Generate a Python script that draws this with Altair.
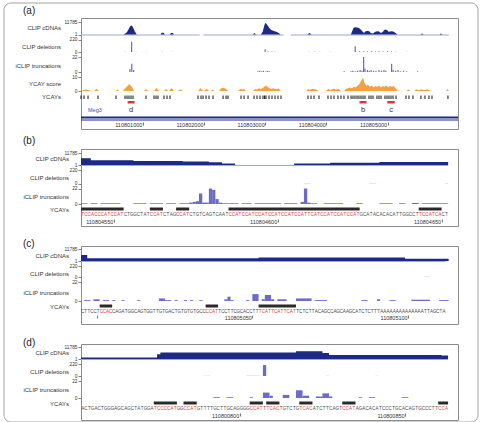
import altair as alt
import pandas as pd

FONT = "Liberation Sans"
NAVY = "#1d2987"
LIGHTBLUE = "#9aa7dc"
LAV = "#6c6cc8"
ORANGE = "#f5a23c"
RED = "#d8383a"
SEQ_BLACK = "#4a4a4a"
BAR_BLACK = "#2a2a2a"
W = 377

# ---------------- panel (a): overview (positions = offset from 110800000) ----------------
A0 = 110800000
A_DOM = [110799990, 110806150]
a_ticks = [110801000, 110802000, 110803000, 110804000, 110805000]

a_cdna_pos = [-10, 690, 740, 770, 790, 810, 830, 850, 870, 900,
              1290, 1310, 1340, 1360, 1440, 1460, 1490, 1510, 2800, 2820, 2850,
              2930, 2960, 2985, 3000, 3020, 3045, 3070, 3100, 3140, 3180, 3220, 3250,
              3690, 3720, 3760,
              4400, 4425, 4445, 4470, 4500, 4530, 4560, 4590, 4615, 4640, 4670, 4700, 4725,
              4760, 4800, 4830, 4860, 4890, 4920, 4945, 4970, 4995, 5015, 5040, 5070, 5100,
              5130, 5160,
              5540, 5560, 5590, 5850, 5870, 5900, 6000]
a_cdna_val = [1, 1, 5, 60, 400, 900, 500, 80, 10, 1,
              1, 4, 4, 1, 1, 3, 3, 1, 1, 3, 1,
              1, 10, 800, 6000, 3000, 600, 100, 30, 15, 8, 3, 1,
              1, 3, 1,
              1, 20, 150, 220, 200, 120, 40, 10, 3, 12, 15, 12, 3,
              2, 8, 12, 10, 3, 6, 30, 40, 25, 8, 10, 12, 8,
              3, 1,
              1, 2, 1, 1, 2, 1, 1]
a_cov_start = [-10, 1990, 3420]
a_cov_end = [1930, 3300, 6000]

a_del_pos = [700, 807, 880, 1050, 1300, 1460, 2990, 3040, 3100, 3150, 3700, 3800, 3880,
             4050, 4460, 4530, 4600, 4660, 4730, 4790, 4850, 4920, 4990, 5050, 5120, 5300]
a_del_val = [5, 180, 5, 3, 4, 3, 50, 10, 8, 5, 4, 4, 3,
             4, 100, 15, 12, 10, 15, 10, 12, 10, 15, 8, 5, 4]

a_trunc_pos = [780, 810, 840, 2870, 2900, 2930, 2960, 3000, 3030, 3060,
               4280, 4390, 4420, 4460, 4500, 4540, 4570, 4598, 4620, 4660, 4690, 4720,
               4760, 4800, 4850, 4890, 4930, 4960, 5055, 5080, 5120, 5160, 5200, 5250, 5300, 5480]
a_trunc_val = [4, 12, 3, 1, 2, 1, 2, 1, 2, 1,
               1, 1, 2, 1, 2, 3, 2, 22, 5, 3, 2, 3,
               2, 2, 3, 2, 3, 2, 12, 3, 2, 3, 1, 2, 1, 1]

a_ycay_pos = [-10, 30, 72, 120, 154, 203, 240, 284, 562, 587, 611,
              676, 700, 740, 775, 800, 830, 856, 1020, 1052, 1085,
              1183, 1224, 1265, 1346, 1379, 1412, 1428, 1469, 1510, 1575, 1616, 1657,
              1902, 1943, 1984, 2000, 2041, 2082, 2114, 2139, 2163,
              2245, 2280, 2311, 2350, 2392, 2556, 2590, 2621, 2655, 2686,
              2801, 2835, 2866, 2900, 2931, 2970, 3013, 3050, 3095, 3130, 3177, 3215, 3258,
              3667, 3700, 3735, 3765, 3820, 3879, 3994, 4030, 4070, 4108, 4160, 4200, 4239,
              4288, 4320, 4350, 4380, 4420, 4450, 4480, 4510, 4540, 4570, 4598, 4620, 4650,
              4680, 4710, 4740, 4770, 4800, 4830, 4860, 4890, 4920, 4950, 4980, 5010, 5040,
              5070, 5100, 5130, 5170,
              5301, 5342, 5382, 5431, 5470, 5510, 5550, 5600, 5650, 5709, 5954, 5980, 6003]
a_ycay_val = [0, 0.8, 1, 0.5, 0, 0, 1.6, 0, 0, 1.2, 0,
              0, 1.5, 3, 5, 4, 2.5, 0, 0, 1.5, 0,
              0, 2.2, 0, 0, 1.5, 0, 0, 2.2, 0, 0, 1.2, 0,
              0, 2.2, 0, 0, 1.6, 0, 0, 1.2, 0,
              0, 2, 2.4, 1.8, 0, 0, 1.5, 1, 1.5, 0,
              0, 1.5, 1, 2, 1.5, 2.5, 4, 2.5, 1.5, 2, 1.2, 1.8, 0,
              0, 1.5, 0.8, 1.6, 1.2, 0, 0, 1.5, 0.8, 1.6, 1, 1.5, 0,
              0, 1.5, 2, 2.5, 2, 3, 2.5, 4, 5, 7.5, 9.5, 6, 3.5,
              4.5, 3, 4, 2.5, 3.5, 3, 4, 2.5, 3.5, 3, 4, 2.5, 3.5,
              3, 3.5, 2, 0,
              0, 1, 0, 0, 1.2, 0.6, 1.3, 0.6, 1.3, 0, 0, 1.5, 0]

a_ycays_pos = [-10, 39, 105, 268, 562, 709, 742, 774, 807, 840, 1052, 1183, 1216, 1248,
               1346, 1395, 1444, 1902, 1951, 1984, 2033, 2082, 2147, 2311, 2360, 2392,
               2605, 2654, 2719, 2817, 2866, 2915, 2964, 2990, 3013, 3062, 3111, 3160, 3209,
               3258, 3699, 3748, 3797, 3879, 4026, 4075, 4124, 4189, 4238, 4287, 4353, 4402,
               4434, 4467, 4500, 4532, 4565, 4598, 4630, 4696, 4728, 4761, 4826, 4859, 4892,
               4957, 4990, 5022, 5055, 5088, 5137, 5300, 5349, 5414, 5545, 5610, 5676, 5725, 5986]

meg3_start, meg3_end = 110795000, 110812000

# ---------------- panel (b) ----------------
B_START = 110804540
B_DOM = [110804540, 110804655]
b_ticks = [110804550, 110804600, 110804650]
b_seq = ("TCCACCCATCCATCTGGCTATCCATCTAGCCATCTGTCAGTCAAT"
         "CCATCCATCCATCCATCCATCCATTCATCCATCCATCCATGCATACACACATTGGCCTTCCATCACT")
b_ycay_s = [0, 21, 29, 45, 103]
b_ycay_e = [13, 25, 33, 85, 110]
b_cdna_idx = [0, 3, 16, 31, 39, 43, 47, 65, 76, 91, 112]
b_cdna_val = [200, 40, 25, 15, 8, 3, 1, 3, 6, 10, 10]
b_del_s = [68, 88, 111]
b_del_e = [70, 90, 112]
b_del_v = [3, 3, 3]
b_tr_s = [0, 3, 6, 16, 21, 26, 30, 33, 34, 35, 36, 37, 39, 40, 41, 42, 43, 49, 53, 62, 67, 68, 69, 70, 74, 84, 91, 97, 101, 104]
b_tr_e = [2, 5, 12, 20, 25, 29, 33, 34, 35, 36, 37, 39, 40, 41, 42, 43, 48, 52, 61, 66, 68, 69, 70, 72, 80, 86, 95, 99, 103, 112]
b_tr_v = [1, 1, 1, 1, 1, 1, 1, 2, 3, 4, 15, 2, 22, 20, 7, 2, 1, 1, 1, 1, 3, 22, 2, 1, 1, 1, 1, 1, 1.5, 1]

# ---------------- panel (c) ----------------
C_START = 110804995
C_DOM = [110804995, 110805116]
c_ticks = [110805000, 110805050, 110805100]
c_seq = ("CTTCCTCCACCAGATGGCAGTGGTTGTGACTGTGTGTGCCCCATTCCTTCGCACCTT"
         "TCATTCATTCATTCTCTTACAGCCAGCAAGCATCTCTTTAAAAAAAAAAAAAATTAGCTA")
c_ycay_s = [6, 40, 57]
c_ycay_e = [10, 44, 69]
c_cdna_idx = [0, 2, 57, 104, 118]
c_cdna_val = [100, 8, 15, 6, 6]
c_del_s = [110]
c_del_e = [112]
c_del_v = [3]
c_tr_s = [1, 4, 7, 10, 13, 18, 25, 27, 30, 33, 35, 38, 46, 47, 48, 53, 55, 58, 59, 61, 63, 69, 75, 90, 95, 99, 106, 115]
c_tr_e = [3, 6, 9, 11, 14, 19, 27, 29, 31, 34, 36, 39, 47, 48, 49, 54, 57, 59, 61, 62, 66, 74, 79, 92, 96, 101, 112, 118]
c_tr_v = [1, 2, 1, 1, 1, 1, 3, 1, 1, 1, 1, 1, 2, 5, 1, 1, 8, 2, 7, 2, 2, 3, 1, 1, 2, 1, 1.5, 1]

# ---------------- panel (d) ----------------
D_START = 110800752
D_DOM = [110800752, 110800866]
d_ticks = [110800800, 110800850]
d_seq = ("ACTGACTGGGAGCAGCTATGGATCCCCATGGCCATGTTTTGCTTGCAGGGGCCATTTCAC"
         "TGTCTGTCACATCTTCAGTCCATAGACACATCCCTGCACAGTGCCCTTCCA")
d_ycay_s = [22, 31, 51, 56, 66, 79, 108]
d_ycay_e = [29, 35, 55, 60, 70, 83, 111]
d_cdna_idx = [0, 23, 24, 65, 73, 75, 109, 111]
d_cdna_val = [3, 40, 150, 400, 100, 25, 15, 15]
d_del_s = [37, 50, 55, 74, 89]
d_del_e = [39, 54, 56, 75, 90]
d_del_v = [2, 3, 200, 2, 2]
d_tr_s = [40, 44, 51, 55, 57, 61, 65, 67, 71, 73, 75, 84, 87, 97]
d_tr_e = [42, 46, 52, 57, 58, 63, 67, 69, 73, 75, 76, 85, 89, 99]
d_tr_v = [1, 1, 1, 7, 3, 4, 10, 3, 2, 6, 2, 1, 1, 1]


# ---------------- helpers ----------------
def xs(dom):
    return alt.Scale(domain=dom, nice=False, zero=False)


def yaxis(vals):
    return alt.Axis(values=vals, orient="left", format="d", title=None, grid=False,
                    domain=False, ticks=True, tickSize=3, tickColor="#666", tickWidth=0.8,
                    labelFont=FONT, labelFontSize=4.8, labelColor="#333", labelPadding=1)


def xaxis(vals, offset, expr=None):
    kw = dict(values=vals, format="d", title=None, grid=False, domain=False, tickSize=3,
              tickColor="#555", tickWidth=0.8, labelFont=FONT, labelFontSize=5.5,
              labelColor="#333", labelAlign="right", labelPadding=-3, labelOffset=-1,
              offset=offset, orient="bottom", labelFlush=False, labelOverlap=False)
    if expr:
        kw["labelExpr"] = expr
    return alt.Axis(**kw)


def txt(t, x, y, size=6, align="right", color="#333"):
    return alt.Chart(pd.DataFrame({"t": [t]})).mark_text(
        align=align, baseline="middle", fontSize=size, font=FONT, color=color
    ).encode(x=alt.value(x), y=alt.value(y), text="t:N")


def cdna(pos, val, cs, ce, dom, rng, interp):
    df = pd.DataFrame({"pos": pos, "v": val, "one": 1})
    cov = pd.DataFrame({"s": cs, "e": ce})
    base = alt.Chart(cov).mark_rule(color=LIGHTBLUE, strokeWidth=1).encode(
        x=alt.X("s:Q", scale=xs(dom), axis=None), x2="e:Q", y=alt.value(rng[0] + 0.5))
    area = alt.Chart(df).mark_area(color=NAVY, interpolate=interp).encode(
        x=alt.X("pos:Q", scale=xs(dom), axis=None),
        y=alt.Y("v:Q", scale=alt.Scale(type="log", domain=[1, 11785], range=rng, nice=False),
                axis=yaxis([1, 11785])),
        y2="one:Q")
    return [base, area]


def bars(s, e, v, dom, ymax, rng, color=LAV):
    df = pd.DataFrame({"s": s, "e": e, "v": v, "zero": 0})
    return alt.Chart(df).mark_rect(color=color).encode(
        x=alt.X("s:Q", scale=xs(dom), axis=None), x2="e:Q",
        y=alt.Y("v:Q", scale=alt.Scale(domain=[0, ymax], range=rng, nice=False),
                axis=yaxis([0, ymax])),
        y2="zero:Q")


def seq_layers(seq, start, ys, ye, dom, row, bar_rows, ticks, offset, expr=None):
    red = [any(s <= i < e for s, e in zip(ys, ye)) for i in range(len(seq))]
    sdf = pd.DataFrame({"pos": [start + i + 0.5 for i in range(len(seq))],
                        "letter": list(seq), "red": red})
    bdf = pd.DataFrame({"s": [start + s for s in ys], "e": [start + e for e in ye]})
    ybars = alt.Chart(bdf).mark_rect(color=BAR_BLACK).encode(
        x=alt.X("s:Q", scale=xs(dom), axis=None), x2="e:Q",
        y=alt.value(bar_rows[0]), y2=alt.value(bar_rows[1]))
    letters = alt.Chart(sdf).mark_text(fontSize=4.5, font=FONT, baseline="middle").encode(
        x=alt.X("pos:Q", scale=xs(dom), axis=xaxis(ticks, offset, expr)),
        y=alt.value(row), text="letter:N",
        color=alt.condition("datum.red", alt.value(RED), alt.value(SEQ_BLACK)))
    return [ybars, letters]


def idx_df_pos(start, idx):
    return [start + i for i in idx]


def panel(layers, H):
    return alt.layer(*layers).properties(width=W, height=H).resolve_scale(
        y="independent").resolve_axis(x="independent", y="independent")


# ---------------- panel (a) ----------------
AH = 111
marks = pd.DataFrame({"name": ["d", "b", "c"],
                      "s": [D_DOM[0], B_DOM[0], C_DOM[0]],
                      "e": [D_DOM[1], B_DOM[1], C_DOM[1]]})
marks["m"] = (marks["s"] + marks["e"]) / 2

outer = alt.Chart(pd.DataFrame({"a": [0]})).mark_rect(
    fillOpacity=0, stroke="#a3a3a3", strokeWidth=1, cornerRadius=7
).encode(x=alt.value(-77), x2=alt.value(397), y=alt.value(-15), y2=alt.value(404))

a_layers = [outer, txt("(a)", -58, -7, size=10, align="left", color="#222"),
            txt("CLIP cDNAs", -20, 10), txt("CLIP deletions", -20, 29),
            txt("iCLIP truncations", -20, 48), txt("YCAY score", -20, 66), txt("YCAYs", -20, 79)]
a_layers += cdna([A0 + p for p in a_cdna_pos], a_cdna_val,
                 [A0 + p for p in a_cov_start], [A0 + p for p in a_cov_end], A_DOM, [16.5, 4], "linear")
a_layers.append(bars([A0 + p for p in a_del_pos], [A0 + p + 20 for p in a_del_pos], a_del_val,
                     A_DOM, 220, [34, 21.5]))
a_layers.append(bars([A0 + p for p in a_trunc_pos], [A0 + p + 20 for p in a_trunc_pos], a_trunc_val,
                     A_DOM, 22, [54, 39]))
a_layers.append(alt.Chart(pd.DataFrame({"pos": [A0 + p for p in a_ycay_pos], "v": a_ycay_val, "zero": 0}))
                .mark_area(color=ORANGE).encode(
                    x=alt.X("pos:Q", scale=xs(A_DOM), axis=None),
                    y=alt.Y("v:Q", scale=alt.Scale(domain=[0, 10], range=[73, 59], nice=False),
                            axis=yaxis([0, 10])),
                    y2="zero:Q"))
a_layers.append(alt.Chart(pd.DataFrame({"pos": [A0 + p for p in a_ycays_pos]}))
                .mark_rule(color="#111", strokeWidth=1).encode(
                    x=alt.X("pos:Q", scale=xs(A_DOM), axis=xaxis(a_ticks, -7)),
                    y=alt.value(77.5), y2=alt.value(81)))
a_layers.append(alt.Chart(marks).mark_rect(color=RED).encode(
    x=alt.X("s:Q", scale=xs(A_DOM), axis=None), x2="e:Q", y=alt.value(83), y2=alt.value(85.5)))
a_layers.append(alt.Chart(marks).mark_text(fontSize=7.5, font=FONT, color="#333", baseline="middle").encode(
    x=alt.X("m:Q", scale=xs(A_DOM), axis=None), y=alt.value(91.5), text="name:N"))
a_layers.append(txt("Meg3", 7, 92, size=5.5, align="left", color="#3b4cb0"))
gene = pd.DataFrame({"s": [meg3_start], "e": [meg3_end]})
a_layers.append(alt.Chart(gene).mark_rule(color=NAVY, strokeWidth=2, clip=True).encode(
    x=alt.X("s:Q", scale=xs(A_DOM), axis=None), x2="e:Q", y=alt.value(99.5)))
a_layers.append(alt.Chart(gene).mark_rule(color=NAVY, strokeWidth=1, clip=True).encode(
    x=alt.X("s:Q", scale=xs(A_DOM), axis=None), x2="e:Q", y=alt.value(102)))
pa = panel(a_layers, AH)


# ---------------- detail panels ----------------
def detail(label, lab_y, H, start, dom, seq, ys, ye, cidx, cval, dels, trs,
           cr, dr, tr, rows, ticks, offset, expr=None):
    L = [txt(label, -58, lab_y, size=10, align="left", color="#222"),
         txt("CLIP cDNAs", -12, rows[0]), txt("CLIP deletions", -12, rows[1]),
         txt("iCLIP truncations", -12, rows[2]), txt("YCAYs", -12, rows[3])]
    L += cdna(idx_df_pos(start, cidx), cval, [start], [start + len(seq)], dom, cr, "step-after")
    L.append(bars(idx_df_pos(start, dels[0]), idx_df_pos(start, dels[1]), dels[2], dom, 220, dr))
    L.append(bars(idx_df_pos(start, trs[0]), idx_df_pos(start, trs[1]), trs[2], dom, 22, tr))
    L += seq_layers(seq, start, ys, ye, dom, rows[4], rows[5], ticks, offset, expr)
    return panel(L, H)


pb = detail("(b)", -8, 77, B_START, B_DOM, b_seq, b_ycay_s, b_ycay_e, b_cdna_idx, b_cdna_val,
            (b_del_s, b_del_e, b_del_v), (b_tr_s, b_tr_e, b_tr_v),
            [16, 4], [34.5, 21], [55, 39.5], [10, 29, 48, 61, 66, (58.5, 61.5)], b_ticks, -7)
pc = detail("(c)", -2, 78, C_START, C_DOM, c_seq, c_ycay_s, c_ycay_e, c_cdna_idx, c_cdna_val,
            (c_del_s, c_del_e, c_del_v), (c_tr_s, c_tr_e, c_tr_v),
            [15, 3], [31, 20], [55, 36], [10, 28, 47, 61, 66, (58.5, 61.5)], c_ticks, -9,
            "datum.value == 110805000 ? '' : datum.label")
pd_ = detail("(d)", -1, 76, D_START, D_DOM, d_seq, d_ycay_s, d_ycay_e, d_cdna_idx, d_cdna_val,
             (d_del_s, d_del_e, d_del_v), (d_tr_s, d_tr_e, d_tr_v),
             [15, 3], [32, 20], [54, 37], [9, 28, 46, 60, 65, (57.5, 60.5)], d_ticks, -7)

chart = alt.vconcat(pa, pb, pc, pd_, spacing=20, bounds="flush").properties(
    padding={"left": 3, "top": 2, "right": 2, "bottom": 0}
).configure_view(stroke="#8c8c8c", strokeWidth=1)

chart.save("out.html", embed_options={"renderer": "svg", "actions": False})
